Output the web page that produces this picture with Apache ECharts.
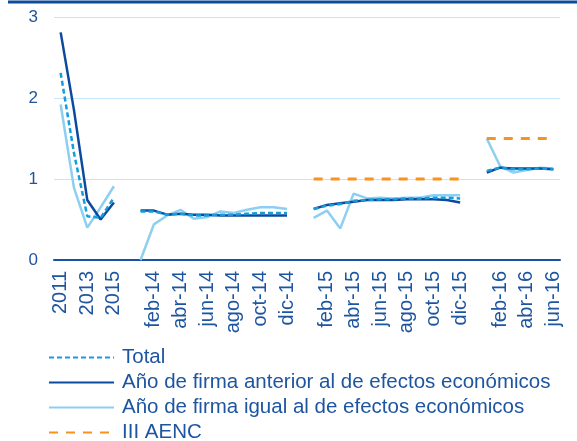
<!DOCTYPE html>
<html>
<head>
<meta charset="utf-8">
<script src="https://cdn.jsdelivr.net/npm/echarts@6/dist/echarts.min.js"></script>
<style>
  html, body { margin: 0; padding: 0; background: #fff; }
  #main { width: 577px; height: 441px; }
</style>
</head>
<body>
<div id="main"></div>
<script>
// categories
var years = ['2011', '2012', '2013', '2014', '2015'];
var months14 = ['ene-14','feb-14','mar-14','abr-14','may-14','jun-14','jul-14','ago-14','sep-14','oct-14','nov-14','dic-14'];
var months15 = ['ene-15','feb-15','mar-15','abr-15','may-15','jun-15','jul-15','ago-15','sep-15','oct-15','nov-15','dic-15'];
var months16 = ['ene-16','feb-16','mar-16','abr-16','may-16','jun-16'];

// Total
var totalYears = [2.31, 1.32, 0.54, 0.52, 0.77];
var total14 = [0.60, 0.60, 0.56, 0.57, 0.55, 0.55, 0.56, 0.56, 0.57, 0.58, 0.58, 0.58];
var total15 = [0.63, 0.67, 0.69, 0.73, 0.74, 0.75, 0.75, 0.76, 0.76, 0.77, 0.77, 0.76];
var total16 = [1.10, 1.14, 1.12, 1.12, 1.13, 1.12];

// Año de firma anterior al de efectos económicos
var antYears = [2.81, 1.85, 0.74, 0.50, 0.71];
var ant14 = [0.61, 0.61, 0.56, 0.57, 0.56, 0.56, 0.55, 0.55, 0.55, 0.55, 0.55, 0.55];
var ant15 = [0.63, 0.68, 0.70, 0.72, 0.74, 0.74, 0.74, 0.75, 0.75, 0.75, 0.74, 0.71];
var ant16 = [1.08, 1.14, 1.13, 1.13, 1.13, 1.12];

// Año de firma igual al de efectos económicos
var iguYears = [1.92, 0.89, 0.40, 0.65, 0.91];
var igu14 = [0.00, 0.44, 0.55, 0.62, 0.51, 0.53, 0.60, 0.58, 0.62, 0.65, 0.65, 0.63];
var igu15 = [0.52, 0.61, 0.39, 0.82, 0.76, 0.77, 0.76, 0.77, 0.77, 0.80, 0.80, 0.80];
var igu16 = [1.50, 1.16, 1.08, 1.11, 1.14, 1.13];

// III AENC
var aenc15 = [1, 1, 1, 1, 1, 1, 1, 1, 1, 1, 1, 1];
var aenc16 = [1.5, 1.5, 1.5, 1.5, 1.5, 1.5];

function none(n) {
    var a = [];
    for (var i = 0; i < n; i++) a.push(null);
    return a;
}
function join(y, a, b, c) {
    return y.concat([null], a, [null], b, [null], c);
}

var categories = years.concat([' '], months14, ['  '], months15, ['   '], months16);
var shownMonths = /^(feb|abr|jun|ago|oct|dic)-/;

var textColor = '#1e55a0';
var font = 'Liberation Sans, Arial, sans-serif';

var dom = document.getElementById('main');
var myChart = echarts.init(dom);

var option = {
    animation: false,
    textStyle: { fontFamily: font },
    graphic: [{
        type: 'line',
        shape: { x1: 8, y1: 2, x2: 577, y2: 2 },
        style: { stroke: '#0d4b9c', lineWidth: 3 }
    }],
    grid: { left: 54, right: 17, top: 17, bottom: 181 },
    legend: {
        orient: 'vertical',
        left: 48,
        top: 347,
        height: 100,
        padding: 0,
        itemWidth: 65,
        itemHeight: 4,
        itemGap: 4,
        itemStyle: { opacity: 0 },
        textStyle: { color: textColor, fontSize: 20.5, lineHeight: 20, fontFamily: font, padding: [0, 0, 0, 3] },
        data: ['Total', 'Año de firma anterior al de efectos económicos',
               'Año de firma igual al de efectos económicos', 'III AENC']
    },
    xAxis: {
        type: 'category',
        data: categories,
        axisLine: { lineStyle: { color: '#1a52a3', width: 2 } },
        axisTick: { interval: 0, length: 6, lineStyle: { color: '#1a52a3', width: 2 } },
        axisLabel: {
            rotate: 90,
            margin: 11,
            color: textColor,
            fontSize: 20,
            fontFamily: font,
            interval: function (idx, val) {
                if (/^20\d\d$/.test(val)) return idx % 2 === 0;
                return shownMonths.test(val);
            }
        }
    },
    yAxis: {
        type: 'value',
        min: 0,
        max: 3,
        interval: 1,
        axisLine: { show: false },
        axisTick: { show: false },
        axisLabel: { color: textColor, fontSize: 17, margin: 16, fontFamily: font },
        splitLine: { lineStyle: { color: '#c4e6f7', width: 1 } }
    },
    series: [
        {
            name: 'Año de firma igual al de efectos económicos',
            type: 'line',
            symbol: 'none',
            data: join(iguYears, igu14, igu15, igu16),
            itemStyle: { color: '#8dcff1' },
            lineStyle: { color: '#8dcff1', width: 2.5 }
        },
        {
            name: 'Año de firma anterior al de efectos económicos',
            type: 'line',
            symbol: 'none',
            data: join(antYears, ant14, ant15, ant16),
            itemStyle: { color: '#0c4a9e' },
            lineStyle: { color: '#0c4a9e', width: 2.5 }
        },
        {
            name: 'Total',
            type: 'line',
            symbol: 'none',
            data: join(totalYears, total14, total15, total16),
            itemStyle: { color: '#139ddf' },
            lineStyle: { color: '#139ddf', width: 2.5, type: [5, 3] }
        },
        {
            name: 'III AENC',
            type: 'line',
            symbol: 'none',
            data: join(none(5), none(12), aenc15, aenc16),
            itemStyle: { color: '#f7931e' },
            lineStyle: { color: '#f7931e', width: 3, type: [9, 8] }
        }
    ]
};

myChart.setOption(option);
</script>
</body>
</html>
